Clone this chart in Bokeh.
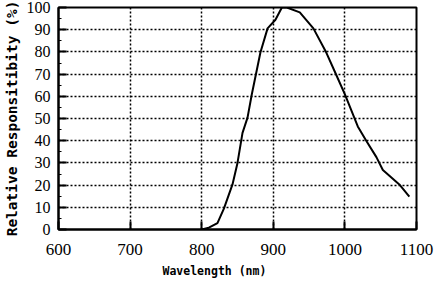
from bokeh.plotting import figure
from bokeh.models import Range1d, FixedTicker, Title
from bokeh.embed import file_html
from bokeh.resources import INLINE

# Data
wavelength = [800, 810, 822, 831, 843, 850, 857, 864, 870, 882, 892, 903, 912, 919,
              937, 956, 974, 988, 1000, 1018, 1030, 1044, 1053, 1076, 1090]
responsivity = [0, 0.8, 2.9, 9.4, 20.3, 30, 43.5, 50.4, 60.9, 79.7, 90.6, 94.5, 100, 100,
                97.8, 90.6, 79.7, 69.6, 60.9, 46.4, 39.9, 32.6, 26.8, 20.3, 14.8]
x_ticks = [600, 700, 800, 900, 1000, 1100]
y_ticks = [0, 10, 20, 30, 40, 50, 60, 70, 80, 90, 100]
x_title = "Wavelength (nm)"
y_title = "Relative Responsitibity (%)"

p = figure(width=434, height=285, output_backend="svg", toolbar_location=None,
           x_range=Range1d(600, 1100), y_range=Range1d(0, 100),
           min_border_left=55, min_border_right=18, min_border_top=7, min_border_bottom=53)
p.background_fill_color = "white"
p.border_fill_color = "white"
p.outline_line_color = "black"
p.outline_line_width = 2

tick_font = "Liberation Serif"
for ax in (p.xaxis[0], p.yaxis[0]):
    ax.axis_line_color = "black"
    ax.axis_line_width = 2
    ax.major_tick_in = 8
    ax.major_tick_out = 0
    ax.minor_tick_in = 3
    ax.minor_tick_out = 0
    ax.major_tick_line_width = 2
    ax.minor_tick_line_width = 1
    ax.major_tick_line_color = "black"
    ax.minor_tick_line_color = "black"
    ax.major_label_text_font = tick_font
    ax.major_label_text_color = "black"
p.xaxis.major_label_text_font_size = "17px"
p.yaxis.major_label_text_font_size = "16px"

p.xaxis.ticker = FixedTicker(ticks=x_ticks, minor_ticks=[])
p.yaxis.ticker = FixedTicker(ticks=y_ticks, minor_ticks=[v + 5 for v in y_ticks[:-1]])
p.xaxis.major_label_standoff = 14
p.yaxis.major_label_standoff = 8

p.yaxis.axis_label = y_title
p.yaxis.axis_label_text_font = "DejaVu Sans Mono"
p.yaxis.axis_label_text_font_style = "bold"
p.yaxis.axis_label_text_font_size = "14.5px"
p.yaxis.axis_label_text_color = "black"
p.yaxis.axis_label_standoff = 4

for g in (p.xgrid[0], p.ygrid[0]):
    g.grid_line_color = "black"
    g.grid_line_dash = "2 2"
    g.grid_line_width = 1.5
p.xgrid.ticker = FixedTicker(ticks=x_ticks[1:-1])
p.ygrid.ticker = FixedTicker(ticks=y_ticks[1:-1])

p.line(wavelength, responsivity, line_color="black", line_width=2)

p.add_layout(Title(text=x_title, align="left", offset=98, standoff=0, padding=6,
                   vertical_align="top",
                   text_font="DejaVu Sans Mono", text_font_style="bold",
                   text_font_size="11.5px", text_color="black"), "below")

open("out.html", "w").write(file_html(p, INLINE))
